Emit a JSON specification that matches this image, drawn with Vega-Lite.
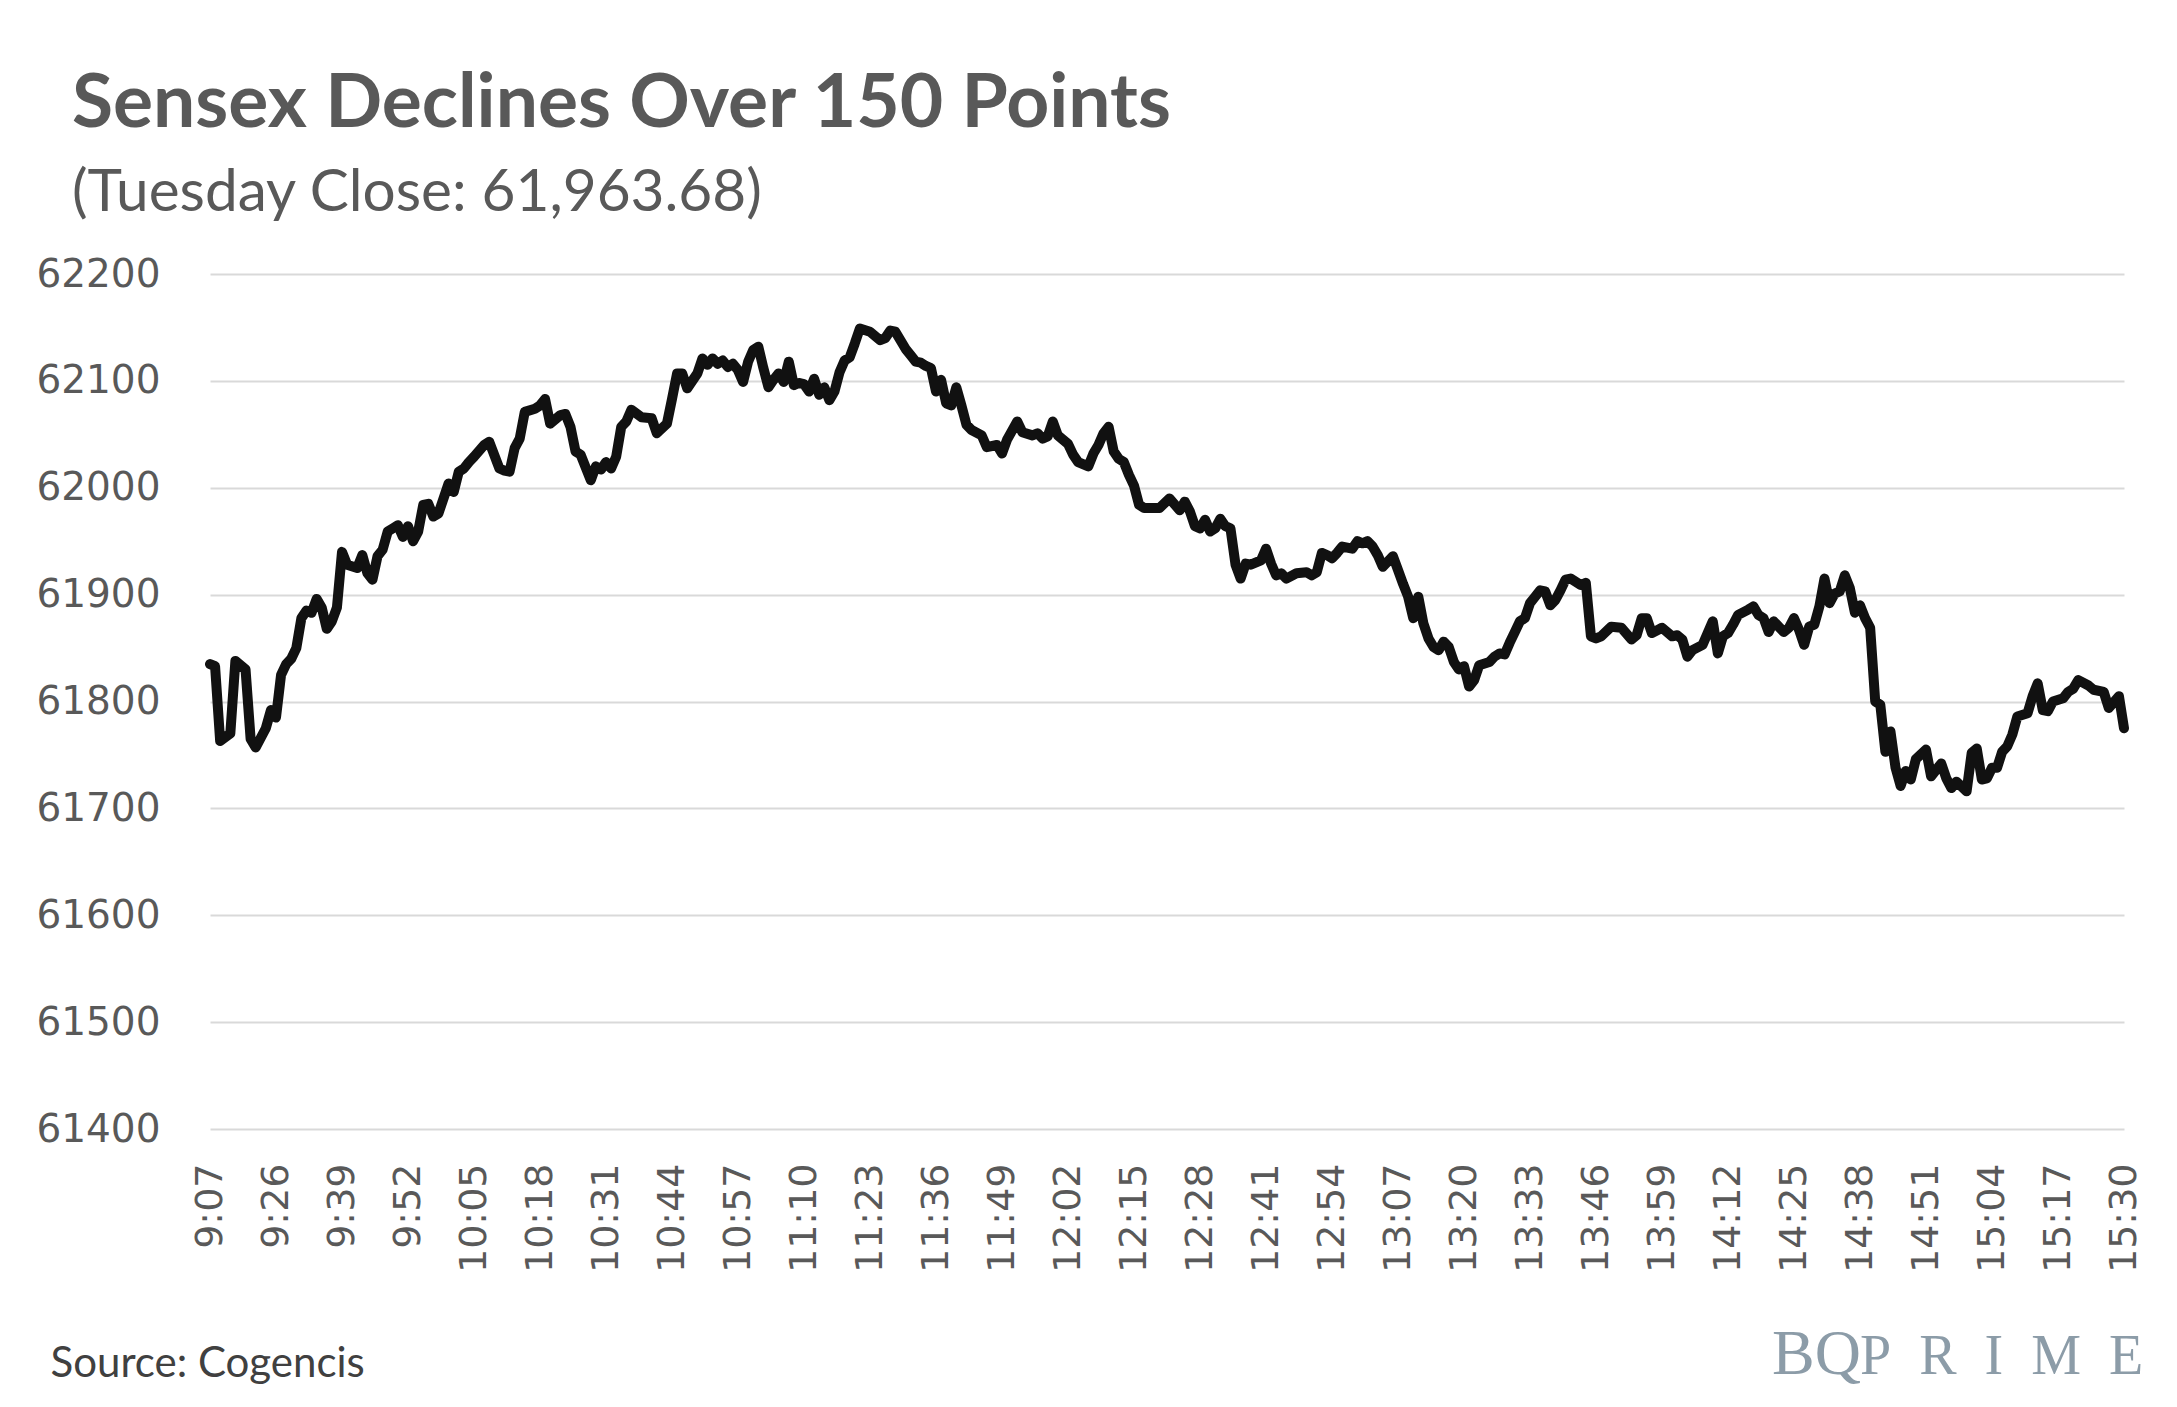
{
  "$schema": "https://vega.github.io/schema/vega-lite/v6.json",
  "width": 1914,
  "height": 855,
  "autosize": {"type": "none"},
  "padding": {"left": 210, "top": 274, "right": 53, "bottom": 278},
  "background": "white",
  "config": {"view": {"stroke": null}},
  "title": {
    "text": "Sensex Declines Over 150 Points",
    "subtitle": "(Tuesday Close: 61,963.68)",
    "anchor": "start",
    "frame": "group",
    "dx": -138,
    "offset": 32,
    "font": "Lato",
    "fontSize": 75,
    "fontWeight": "bold",
    "color": "#595959",
    "subtitleFont": "Lato",
    "subtitleFontSize": 58.5,
    "subtitleColor": "#595959",
    "subtitlePadding": 22
  },
  "data": {"values": [
    {"i":0,"v":61835},{"i":1,"v":61833},{"i":2,"v":61763},{"i":4,"v":61770},{"i":5,"v":61838},{"i":7,"v":61830},{"i":8,"v":61765},{"i":9,"v":61757},{"i":11,"v":61775},{"i":12,"v":61792},{"i":13,"v":61785},{"i":14,"v":61825},{"i":15,"v":61835},{"i":16,"v":61840},{"i":17,"v":61850},{"i":18,"v":61878},{"i":19,"v":61885},{"i":20,"v":61883},{"i":21,"v":61896},{"i":22,"v":61888},{"i":23,"v":61868},{"i":24,"v":61875},{"i":25,"v":61888},{"i":26,"v":61940},{"i":27,"v":61928},{"i":29,"v":61925},{"i":30,"v":61937},{"i":31,"v":61920},{"i":32,"v":61914},{"i":33,"v":61936},{"i":34,"v":61942},{"i":35,"v":61959},{"i":36,"v":61962},{"i":37,"v":61965},{"i":38,"v":61954},{"i":39,"v":61964},{"i":40,"v":61950},{"i":41,"v":61959},{"i":42,"v":61984},{"i":43,"v":61985},{"i":44,"v":61973},{"i":45,"v":61976},{"i":47,"v":62004},{"i":48,"v":61996},{"i":49,"v":62015},{"i":50,"v":62018},{"i":51,"v":62024},{"i":52,"v":62029},{"i":54,"v":62040},{"i":55,"v":62043},{"i":57,"v":62018},{"i":58,"v":62016},{"i":59,"v":62015},{"i":60,"v":62037},{"i":61,"v":62046},{"i":62,"v":62071},{"i":64,"v":62074},{"i":65,"v":62077},{"i":66,"v":62083},{"i":67,"v":62060},{"i":69,"v":62068},{"i":70,"v":62069},{"i":71,"v":62057},{"i":72,"v":62034},{"i":73,"v":62031},{"i":75,"v":62007},{"i":76,"v":62020},{"i":77,"v":62017},{"i":78,"v":62024},{"i":79,"v":62018},{"i":80,"v":62029},{"i":81,"v":62057},{"i":82,"v":62062},{"i":83,"v":62073},{"i":85,"v":62066},{"i":87,"v":62065},{"i":88,"v":62051},{"i":90,"v":62060},{"i":91,"v":62083},{"i":92,"v":62107},{"i":93,"v":62107},{"i":94,"v":62093},{"i":96,"v":62107},{"i":97,"v":62121},{"i":98,"v":62115},{"i":99,"v":62121},{"i":100,"v":62116},{"i":101,"v":62119},{"i":102,"v":62113},{"i":103,"v":62116},{"i":104,"v":62110},{"i":105,"v":62099},{"i":106,"v":62118},{"i":107,"v":62129},{"i":108,"v":62132},{"i":109,"v":62112},{"i":110,"v":62094},{"i":111,"v":62101},{"i":112,"v":62107},{"i":113,"v":62099},{"i":114,"v":62118},{"i":115,"v":62096},{"i":116,"v":62098},{"i":117,"v":62097},{"i":118,"v":62090},{"i":119,"v":62102},{"i":120,"v":62087},{"i":121,"v":62094},{"i":122,"v":62082},{"i":123,"v":62090},{"i":124,"v":62108},{"i":125,"v":62119},{"i":126,"v":62122},{"i":127,"v":62135},{"i":128,"v":62149},{"i":130,"v":62146},{"i":132,"v":62138},{"i":133,"v":62140},{"i":134,"v":62147},{"i":135,"v":62146},{"i":137,"v":62130},{"i":138,"v":62124},{"i":139,"v":62118},{"i":140,"v":62117},{"i":141,"v":62114},{"i":142,"v":62112},{"i":143,"v":62090},{"i":144,"v":62101},{"i":145,"v":62079},{"i":146,"v":62077},{"i":147,"v":62094},{"i":148,"v":62077},{"i":149,"v":62059},{"i":150,"v":62054},{"i":152,"v":62049},{"i":153,"v":62038},{"i":155,"v":62040},{"i":156,"v":62032},{"i":157,"v":62045},{"i":159,"v":62062},{"i":160,"v":62052},{"i":162,"v":62049},{"i":163,"v":62051},{"i":164,"v":62046},{"i":165,"v":62048},{"i":166,"v":62062},{"i":167,"v":62049},{"i":168,"v":62045},{"i":169,"v":62041},{"i":170,"v":62031},{"i":171,"v":62024},{"i":173,"v":62020},{"i":174,"v":62032},{"i":175,"v":62040},{"i":176,"v":62051},{"i":177,"v":62057},{"i":178,"v":62034},{"i":179,"v":62027},{"i":180,"v":62024},{"i":181,"v":62012},{"i":182,"v":62002},{"i":183,"v":61984},{"i":184,"v":61981},{"i":185,"v":61981},{"i":187,"v":61981},{"i":189,"v":61990},{"i":191,"v":61979},{"i":192,"v":61987},{"i":193,"v":61978},{"i":194,"v":61964},{"i":195,"v":61962},{"i":196,"v":61970},{"i":197,"v":61959},{"i":198,"v":61962},{"i":199,"v":61971},{"i":200,"v":61964},{"i":201,"v":61962},{"i":202,"v":61928},{"i":203,"v":61915},{"i":204,"v":61929},{"i":205,"v":61928},{"i":207,"v":61932},{"i":208,"v":61943},{"i":209,"v":61929},{"i":210,"v":61918},{"i":211,"v":61920},{"i":212,"v":61915},{"i":214,"v":61920},{"i":216,"v":61921},{"i":217,"v":61918},{"i":218,"v":61921},{"i":219,"v":61939},{"i":220,"v":61937},{"i":221,"v":61934},{"i":222,"v":61939},{"i":223,"v":61945},{"i":225,"v":61943},{"i":226,"v":61950},{"i":227,"v":61948},{"i":228,"v":61950},{"i":229,"v":61945},{"i":230,"v":61937},{"i":231,"v":61926},{"i":233,"v":61936},{"i":234,"v":61923},{"i":235,"v":61910},{"i":236,"v":61898},{"i":237,"v":61878},{"i":238,"v":61898},{"i":239,"v":61873},{"i":240,"v":61859},{"i":241,"v":61851},{"i":242,"v":61848},{"i":243,"v":61856},{"i":244,"v":61851},{"i":245,"v":61837},{"i":246,"v":61830},{"i":247,"v":61833},{"i":248,"v":61814},{"i":249,"v":61820},{"i":250,"v":61834},{"i":252,"v":61837},{"i":253,"v":61842},{"i":254,"v":61845},{"i":255,"v":61844},{"i":256,"v":61855},{"i":257,"v":61865},{"i":258,"v":61875},{"i":259,"v":61878},{"i":260,"v":61892},{"i":261,"v":61898},{"i":262,"v":61904},{"i":263,"v":61903},{"i":264,"v":61890},{"i":265,"v":61895},{"i":266,"v":61904},{"i":267,"v":61914},{"i":268,"v":61915},{"i":269,"v":61912},{"i":270,"v":61909},{"i":271,"v":61911},{"i":272,"v":61861},{"i":273,"v":61859},{"i":274,"v":61861},{"i":276,"v":61870},{"i":278,"v":61869},{"i":280,"v":61858},{"i":281,"v":61862},{"i":282,"v":61878},{"i":283,"v":61878},{"i":284,"v":61864},{"i":286,"v":61869},{"i":288,"v":61861},{"i":289,"v":61862},{"i":290,"v":61858},{"i":291,"v":61842},{"i":292,"v":61848},{"i":294,"v":61853},{"i":295,"v":61864},{"i":296,"v":61875},{"i":297,"v":61845},{"i":298,"v":61861},{"i":299,"v":61864},{"i":300,"v":61872},{"i":301,"v":61881},{"i":303,"v":61886},{"i":304,"v":61889},{"i":305,"v":61881},{"i":306,"v":61878},{"i":307,"v":61865},{"i":308,"v":61875},{"i":309,"v":61870},{"i":310,"v":61865},{"i":311,"v":61869},{"i":312,"v":61878},{"i":313,"v":61867},{"i":314,"v":61853},{"i":315,"v":61870},{"i":316,"v":61872},{"i":317,"v":61889},{"i":318,"v":61915},{"i":319,"v":61892},{"i":320,"v":61901},{"i":321,"v":61903},{"i":322,"v":61918},{"i":323,"v":61906},{"i":324,"v":61883},{"i":325,"v":61890},{"i":326,"v":61878},{"i":327,"v":61869},{"i":328,"v":61800},{"i":329,"v":61797},{"i":330,"v":61753},{"i":331,"v":61772},{"i":332,"v":61738},{"i":333,"v":61721},{"i":334,"v":61735},{"i":335,"v":61727},{"i":336,"v":61746},{"i":338,"v":61755},{"i":339,"v":61730},{"i":341,"v":61742},{"i":342,"v":61728},{"i":343,"v":61719},{"i":344,"v":61725},{"i":346,"v":61716},{"i":347,"v":61752},{"i":348,"v":61756},{"i":349,"v":61727},{"i":350,"v":61728},{"i":351,"v":61738},{"i":352,"v":61738},{"i":353,"v":61753},{"i":354,"v":61758},{"i":355,"v":61769},{"i":356,"v":61786},{"i":358,"v":61789},{"i":359,"v":61805},{"i":360,"v":61817},{"i":361,"v":61792},{"i":362,"v":61791},{"i":363,"v":61800},{"i":365,"v":61803},{"i":366,"v":61809},{"i":367,"v":61812},{"i":368,"v":61820},{"i":370,"v":61815},{"i":371,"v":61811},{"i":373,"v":61809},{"i":374,"v":61794},{"i":376,"v":61805},{"i":377,"v":61775}
  ]},
  "layer": [
    {
      "mark": {"type": "line", "color": "#111111", "strokeWidth": 10, "strokeJoin": "round", "strokeCap": "round"},
      "encoding": {
        "x": {
          "field": "i", "type": "quantitative",
          "scale": {"domain": [0, 377], "nice": false, "zero": false},
          "axis": {
            "values": [0,13,26,39,52,65,78,91,104,117,130,143,156,169,182,195,208,221,234,247,260,273,286,299,312,325,338,351,364,377],
            "labelExpr": "datum.value == 0 ? '9:07' : floor((553 + datum.value) / 60) + ':' + ((553 + datum.value) % 60 < 10 ? '0' : '') + ((553 + datum.value) % 60)",
            "labelAngle": -90,
            "labelFlush": false,
            "labelOverlap": false,
            "labelBound": false,
            "domain": false,
            "ticks": false,
            "grid": false,
            "labelPadding": 34,
            "labelFont": "DejaVu Sans",
            "labelFontSize": 38,
            "labelColor": "#595959",
            "title": "Source: Cogencis",
            "titleFont": "Lato",
            "titleFontSize": 42,
            "titleFontWeight": "normal",
            "titleColor": "#404040",
            "titleX": -160,
            "titleY": 247,
            "titleAlign": "left",
            "titleBaseline": "alphabetic"
          }
        },
        "y": {
          "field": "v", "type": "quantitative",
          "scale": {"domain": [61400, 62200], "nice": false, "zero": false},
          "axis": {
            "values": [61400,61500,61600,61700,61800,61900,62000,62100,62200],
            "format": "d",
            "title": null,
            "domain": false,
            "ticks": false,
            "labelPadding": 50,
            "labelFont": "DejaVu Sans",
            "labelFontSize": 39,
            "labelColor": "#595959",
            "grid": true,
            "gridColor": "#d9d9d9",
            "gridWidth": 2
          }
        }
      }
    },
    {
      "data": {"values": [{"logo": "BQ"}]},
      "mark": {"type": "text", "font": "Liberation Serif", "fontSize": 64, "color": "#8c9ca8", "align": "left", "baseline": "alphabetic", "dx": -352, "dy": 245},
      "encoding": {
        "x": {"datum": 377, "type": "quantitative"},
        "y": {"datum": 61400, "type": "quantitative"},
        "text": {"field": "logo"}
      }
    },
    {
      "data": {"values": [{"logo": "P\u00a0\u00a0R\u00a0\u00a0I\u00a0\u00a0M\u00a0\u00a0E"}]},
      "mark": {"type": "text", "font": "Liberation Serif", "fontSize": 56, "color": "#8c9ca8", "align": "left", "baseline": "alphabetic", "dx": -264, "dy": 245},
      "encoding": {
        "x": {"datum": 377, "type": "quantitative"},
        "y": {"datum": 61400, "type": "quantitative"},
        "text": {"field": "logo"}
      }
    }
  ]
}
